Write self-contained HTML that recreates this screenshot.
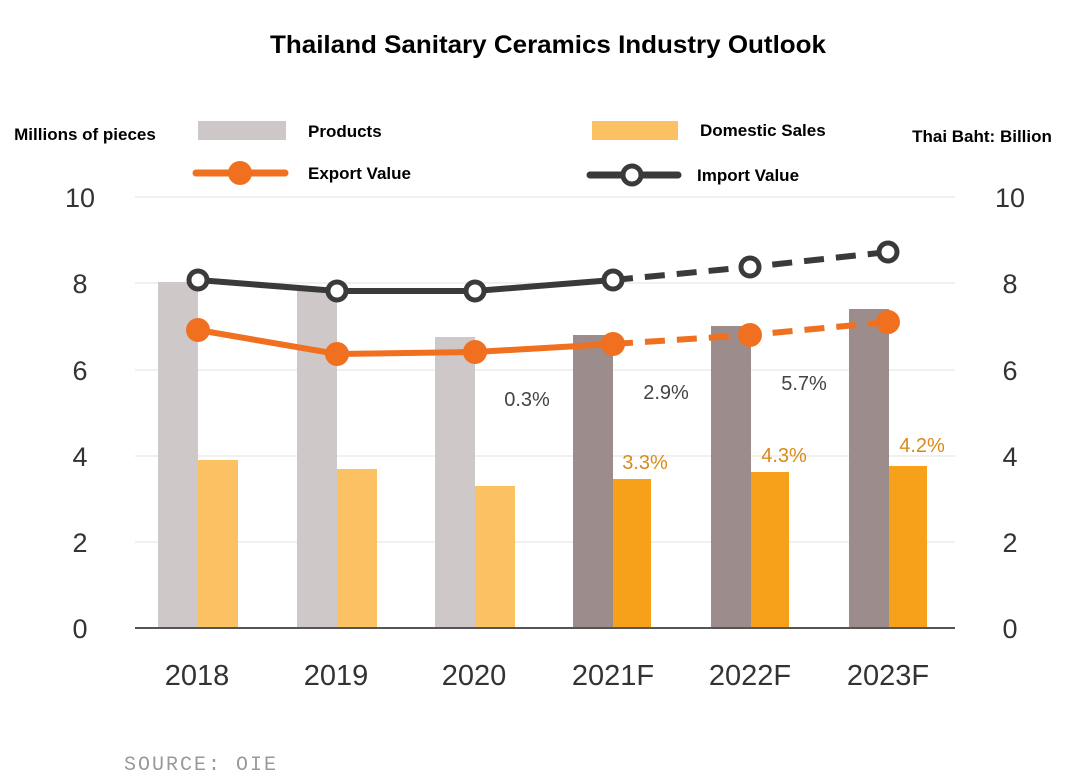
<!DOCTYPE html>
<html><head><meta charset="utf-8"><style>
body{margin:0;background:#fff;}
svg{display:block;font-family:"Liberation Sans",sans-serif;}
</style></head><body>
<svg width="1080" height="776" viewBox="0 0 1080 776">
<rect width="1080" height="776" fill="#fff"/>
<text x="548" y="53" text-anchor="middle" font-size="25" font-weight="bold" fill="#000" textLength="556" lengthAdjust="spacingAndGlyphs">Thailand Sanitary Ceramics Industry Outlook</text>
<text x="85" y="140" text-anchor="middle" font-size="17" font-weight="bold">Millions of pieces</text>
<text x="982" y="142" text-anchor="middle" font-size="17" font-weight="bold">Thai Baht: Billion</text>
<rect x="198" y="121" width="88" height="19" fill="#cdc7c7"/>
<text x="308" y="137" font-size="17" font-weight="bold">Products</text>
<rect x="592" y="121" width="86" height="19" fill="#fbc163"/>
<text x="700" y="136" font-size="17" font-weight="bold">Domestic Sales</text>
<line x1="196" y1="173" x2="285" y2="173" stroke="#f07020" stroke-width="7" stroke-linecap="round"/>
<circle cx="240" cy="173" r="12" fill="#f07020"/>
<text x="308" y="179" font-size="17" font-weight="bold">Export Value</text>
<line x1="590" y1="175" x2="678" y2="175" stroke="#3a3a3a" stroke-width="7" stroke-linecap="round"/>
<circle cx="632" cy="175" r="9" fill="#fff" stroke="#3a3a3a" stroke-width="5"/>
<text x="697" y="181" font-size="17" font-weight="bold">Import Value</text>
<g stroke="#e2e2e2" stroke-width="1">
<line x1="135" y1="197" x2="955" y2="197"/>
<line x1="135" y1="283" x2="955" y2="283"/>
<line x1="135" y1="370" x2="955" y2="370"/>
<line x1="135" y1="456" x2="955" y2="456"/>
<line x1="135" y1="542" x2="955" y2="542"/>
</g>
<g font-size="27" fill="#333" text-anchor="middle">
<text x="80" y="207">10</text><text x="80" y="293">8</text><text x="80" y="380">6</text><text x="80" y="466">4</text><text x="80" y="552">2</text><text x="80" y="638">0</text>
<text x="1010" y="207">10</text><text x="1010" y="293">8</text><text x="1010" y="380">6</text><text x="1010" y="466">4</text><text x="1010" y="552">2</text><text x="1010" y="638">0</text>
</g>
<g fill="#cfc8c8">
<rect x="158" y="282" width="40" height="346"/>
<rect x="297" y="291" width="40" height="337"/>
<rect x="435" y="337" width="40" height="291"/>
</g>
<g fill="#9c8c8c">
<rect x="573" y="335" width="40" height="293"/>
<rect x="711" y="326" width="40" height="302"/>
<rect x="849" y="309" width="40" height="319"/>
</g>
<g fill="#fbc163">
<rect x="198" y="460" width="40" height="168"/>
<rect x="337" y="469" width="40" height="159"/>
<rect x="475" y="486" width="40" height="142"/>
</g>
<g fill="#f7a01a">
<rect x="613" y="479" width="38" height="149"/>
<rect x="751" y="472" width="38" height="156"/>
<rect x="889" y="466" width="38" height="162"/>
</g>
<line x1="135" y1="628" x2="955" y2="628" stroke="#555" stroke-width="2"/>
<polyline points="198,330 337,354 475,352 613,344" fill="none" stroke="#f07020" stroke-width="6"/>
<polyline points="613,344 750,335 888,322" fill="none" stroke="#f07020" stroke-width="6" stroke-dasharray="20,12"/>
<g fill="#f07020"><circle cx="198" cy="330" r="12"/><circle cx="337" cy="354" r="12"/><circle cx="475" cy="352" r="12"/><circle cx="613" cy="344" r="12"/><circle cx="750" cy="335" r="12"/><circle cx="888" cy="322" r="12"/></g>
<polyline points="198,280 337,291 475,291 613,280" fill="none" stroke="#3a3a3a" stroke-width="6"/>
<polyline points="613,280 750,267 888,252" fill="none" stroke="#3a3a3a" stroke-width="6" stroke-dasharray="20,12"/>
<g fill="#fff" stroke="#3a3a3a" stroke-width="5"><circle cx="198" cy="280" r="9"/><circle cx="337" cy="291" r="9"/><circle cx="475" cy="291" r="9"/><circle cx="613" cy="280" r="9"/><circle cx="750" cy="267" r="9"/><circle cx="888" cy="252" r="9"/></g>
<g font-size="20" fill="#444" text-anchor="middle">
<text x="527" y="406">0.3%</text><text x="666" y="399">2.9%</text><text x="804" y="390">5.7%</text>
</g>
<g font-size="20" fill="#d98a1a" text-anchor="middle">
<text x="645" y="469">3.3%</text><text x="784" y="462">4.3%</text><text x="922" y="452">4.2%</text>
</g>
<g font-size="29" fill="#333" text-anchor="middle">
<text x="197" y="685">2018</text><text x="336" y="685">2019</text><text x="474" y="685">2020</text><text x="613" y="685">2021F</text><text x="750" y="685">2022F</text><text x="888" y="685">2023F</text>
</g>
<text x="124" y="770" font-size="20" fill="#999" font-family="Liberation Mono,monospace" letter-spacing="2">SOURCE: OIE</text>
</svg>
</body></html>
